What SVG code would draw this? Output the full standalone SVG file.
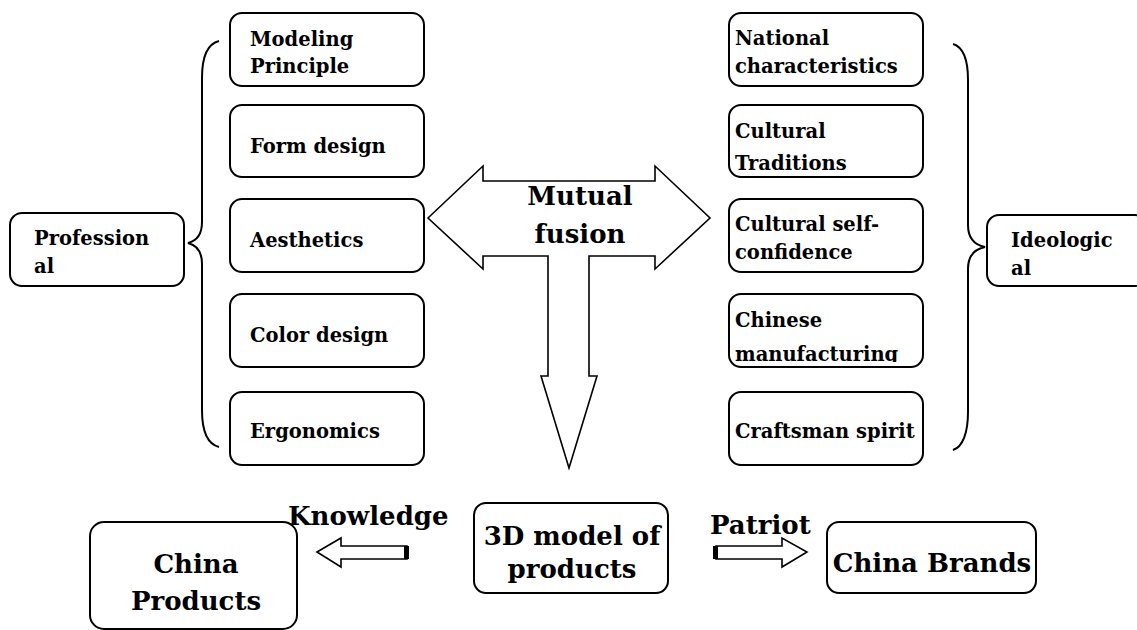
<svg xmlns="http://www.w3.org/2000/svg" width="1137" height="630" viewBox="0 0 1137 630">
<defs>
<style>
.box{fill:#fff;stroke:#000;stroke-width:2}
.ln{fill:none;stroke:#000;stroke-width:2}
.arr{fill:#fff;stroke:#000;stroke-width:1.6;stroke-linejoin:miter}
text{font-family:"DejaVu Serif","Liberation Serif",serif;font-weight:bold;fill:#000}
.s{font-size:19.5px}
.m{font-size:26px}
.l{font-size:26px}
</style>
<clipPath id="clipChinese"><rect x="729" y="294" width="194" height="68"/></clipPath>
</defs>
<rect width="1137" height="630" fill="#fff"/>

<g id="connectors">
<path class="ln" d="M219,41 C207,44 202,58 202,78 L202,222 C202,235 196,241 188,243 C196,245 202,251 202,264 L202,410 C202,430 207,444 219,447"/>
<path class="ln" d="M953,44 C963,47 968,60 968,80 L968,225 C968,238 975,245 985,247 C975,249 968,256 968,269 L968,412 C968,432 963,447 953,450"/>
<path id="fusion" class="arr" d="M428,218 L483,166 L483,181 L655,181 L655,166 L710,218 L655,269 L655,256 L589,256 L589,376 L597,376 L569,468 L541,376 L548,376 L548,256 L483,256 L483,269 Z"/>
<g id="knowledge-arrow">
<path class="arr" d="M317,552 L341,538 L341,546 L407,546 L407,559 L341,559 L341,567 Z"/>
<rect x="404" y="546" width="5" height="13" fill="#000"/>
</g>
<g id="patriot-arrow">
<path class="arr" d="M716,546 L782,546 L782,538 L807,552 L782,567 L782,559 L716,559 Z"/>
<rect x="713" y="546" width="5" height="13" fill="#000"/>
</g>
</g>

<g id="professional"><rect class="box" x="10" y="213" width="174" height="73" rx="12"/>
<text class="s" x="34" y="245">Profession</text><text class="s" x="34" y="273">al</text></g>

<g id="modeling"><rect class="box" x="230" y="13" width="194" height="73" rx="12"/>
<text class="s" x="250" y="46">Modeling</text><text class="s" x="250" y="73">Principle</text></g>
<g id="form"><rect class="box" x="230" y="105" width="194" height="72" rx="12"/>
<text class="s" x="250" y="153">Form design</text></g>
<g id="aesthetics"><rect class="box" x="230" y="199" width="194" height="73" rx="12"/>
<text class="s" x="250" y="247">Aesthetics</text></g>
<g id="color"><rect class="box" x="230" y="294" width="194" height="73" rx="12"/>
<text class="s" x="250" y="342">Color design</text></g>
<g id="ergonomics"><rect class="box" x="230" y="392" width="194" height="73" rx="12"/>
<text class="s" x="250" y="438">Ergonomics</text></g>

<g id="national"><rect class="box" x="729" y="13" width="194" height="73" rx="12"/>
<text class="s" x="735" y="45">National</text><text class="s" x="735" y="73">characteristics</text></g>
<g id="traditions"><rect class="box" x="729" y="105" width="194" height="72" rx="12"/>
<text class="s" x="735" y="138">Cultural</text><text class="s" x="735" y="170">Traditions</text></g>
<g id="selfconfidence"><rect class="box" x="729" y="199" width="194" height="73" rx="12"/>
<text class="s" x="735" y="231">Cultural self-</text><text class="s" x="735" y="259">confidence</text></g>
<g id="manufacturing"><rect class="box" x="729" y="294" width="194" height="73" rx="12"/>
<text class="s" x="735" y="327">Chinese</text><text class="s" x="735" y="361" clip-path="url(#clipChinese)">manufacturing</text></g>
<g id="craftsman"><rect class="box" x="729" y="392" width="194" height="73" rx="12"/>
<text class="s" x="735" y="438">Craftsman spirit</text></g>

<g id="ideological"><rect class="box" x="987" y="215" width="160" height="71" rx="12"/>
<text class="s" x="1011" y="247">Ideologic</text><text class="s" x="1011" y="275">al</text></g>

<g id="fusion-label"><text class="m" x="580" y="205" text-anchor="middle">Mutual</text><text class="m" x="580" y="243" text-anchor="middle">fusion</text></g>

<g id="china-products"><rect class="box" x="90" y="522" width="207" height="107" rx="14"/>
<text class="l" x="196" y="573" text-anchor="middle">China</text><text class="l" x="196" y="610" text-anchor="middle">Products</text></g>

<g id="model"><rect class="box" x="474" y="503" width="194" height="90" rx="12"/>
<text class="l" x="572" y="545" text-anchor="middle">3D model of</text><text class="l" x="572" y="578" text-anchor="middle">products</text></g>

<g id="china-brands"><rect class="box" x="827" y="522" width="209" height="71" rx="12"/>
<text class="l" x="932" y="572" text-anchor="middle">China Brands</text></g>

<text class="l" x="288" y="525">Knowledge</text>
<text class="l" x="710" y="534">Patriot</text>
</svg>
